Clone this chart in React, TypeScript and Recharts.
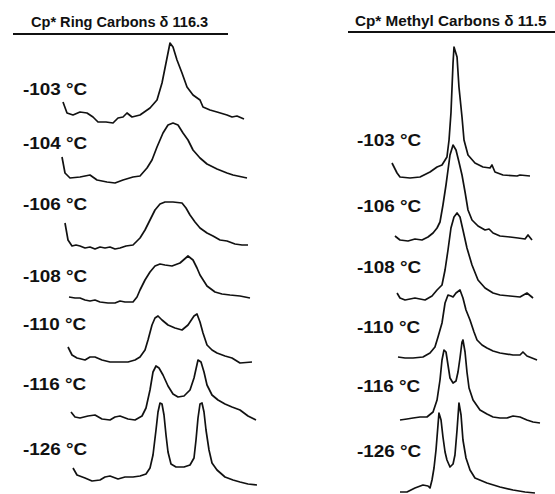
import { Line, LineChart, XAxis, YAxis } from "recharts";

type Pt = [number, number];

// x: position along the shift axis (0-100), y: intensity above baseline
const ringTemps = ["-103 °C", "-104 °C", "-106 °C", "-108 °C", "-110 °C", "-116 °C", "-126 °C"];
const methylTemps = ["-103 °C", "-106 °C", "-108 °C", "-110 °C", "-116 °C", "-126 °C"];

const ring103: Pt[] = [
  [1.5, 16], [3.5, 5], [6.5, 3], [10, 6], [13.5, 5], [16.5, 1], [19, -4], [23, -4], [26.5, -5],
  [29, 0], [31.5, 1], [33.5, 5], [36, 1], [40, 3], [45, 10], [48.5, 18], [51, 35], [53, 55],
  [55, 75], [56.5, 71], [58.5, 58], [61, 45], [63.5, 31], [66.5, 23], [70, 18], [71.5, 11],
  [75, 8], [78.5, 6], [83.5, 3], [86, 1], [88.5, 2], [92, -1],
];
const ring104: Pt[] = [
  [1, 23], [2.5, 7], [5, 2], [10, 3], [15, 5], [18.5, 0], [23.5, -2], [27.5, -3], [31.5, 0],
  [36.5, 3], [40, 4], [43.5, 12], [46, 20], [48.5, 33], [51.5, 47], [54, 55], [56.5, 57],
  [59, 55], [61.5, 47], [64, 40], [66.5, 30], [70, 22], [73.5, 16], [78.5, 11], [83.5, 7],
  [86.5, 5], [93.5, 2],
];
const ring106: Pt[] = [
  [2.5, 23], [4, 6], [6, 0], [8, 1], [10, 0], [12.5, -2], [15, -1], [17.5, -3], [20, -1],
  [22.5, -2], [25, -1], [27.5, -3], [30, -2], [33, 0], [36.5, 1], [40, 8], [42.5, 16], [45, 26],
  [47.5, 36], [50, 42], [52.5, 44], [56.5, 44], [61, 43], [63, 38], [65, 31], [67.5, 24],
  [70, 18], [73.5, 13], [76.5, 10], [80, 6], [83.5, 5], [87.5, 2], [91, 1], [94, 1],
];
const ring108: Pt[] = [
  [4.5, 3], [7.5, 2], [10, 2], [12.5, 0], [15, -1], [17.5, 0], [20, -2], [24, -3], [27.5, -3],
  [30, -1], [32.5, -2], [36.5, -2], [38.5, 3], [40, 10], [42.5, 20], [45, 28], [47.5, 34],
  [50, 36], [52.5, 35], [56, 34], [60, 37], [64, 44], [66.5, 40], [68.5, 32], [70, 25],
  [73.5, 14], [77.5, 8], [81, 6], [85, 5], [90, 4], [95, 2],
];
const ring110: Pt[] = [
  [4, 13], [6, 5], [8.5, 2], [12.5, 0], [15, 3], [17.5, 3], [21, 0], [25, -2], [30, -2],
  [34, -2], [37.5, 0], [40, 3], [42.5, 10], [44, 20], [46, 35], [47.5, 42], [49, 44], [51, 40],
  [54, 35], [57.5, 32], [61, 30], [64, 35], [67, 44], [68.5, 46], [70, 38], [71.5, 27],
  [73.5, 15], [76, 10], [78.5, 7], [82.5, 4], [86, 2], [90, -3], [96, -2],
];
const ring116: Pt[] = [
  [5.5, 6], [7.5, 1], [10, 0], [14, 2], [17.5, 3], [21, -1], [25, -2], [27.5, 1], [30, 2],
  [34, -1], [37.5, -2], [41, 2], [43, 10], [45, 28], [46.5, 46], [48, 52], [49.5, 50],
  [51.5, 43], [54, 32], [56.5, 24], [59, 21], [62, 22], [65, 28], [67, 40], [69, 58],
  [70.5, 56], [72, 46], [73.5, 33], [76, 23], [79, 18], [82.5, 14], [86, 11], [90, 8],
  [94, 2], [98, -2],
];
const ring126: Pt[] = [
  [6.5, 10], [8.5, 3], [12.5, 0], [16, -3], [20, -2], [22.5, 1], [25, 2], [29, -1], [32.5, 1],
  [36.5, 1], [40, 2], [43, 4], [45, 10], [46.5, 23], [48, 48], [49, 66], [50, 75], [51, 74],
  [52, 63], [53, 43], [54, 26], [55.5, 14], [58, 11], [62, 11], [65, 13], [67, 20], [68, 38],
  [69, 60], [70, 74], [71, 75], [72, 66], [73, 48], [74.5, 28], [76, 15], [78.5, 8], [82.5, 1],
  [86.5, -2], [90, -4], [94, -6], [98.5, -7],
];

const methyl103: Pt[] = [
  [1.25, 14], [4.4, 4], [6.25, 0], [12.5, -1], [18.75, 0], [25, 5], [29.4, 10], [32.5, 12],
  [35.6, 20], [36.9, 37], [38.1, 64], [39.4, 114], [40, 130], [41.9, 120], [43.1, 90], [45, 60],
  [46.25, 37], [48.75, 22], [53.1, 14], [58.1, 10], [62.5, 9], [63.75, 12], [65.6, 5],
  [70.6, 2], [79.4, 1], [81.25, 2], [87.5, 1],
];
const methyl106: Pt[] = [
  [3.1, 4], [6.25, 0], [11.25, -1], [15.6, 1], [20, 0], [23.75, 3], [26.9, 7], [29.4, 12],
  [31.25, 18], [33.1, 35], [35, 55], [36.25, 70], [37.5, 85], [39.4, 95], [41.25, 90],
  [43.1, 78], [45, 65], [46.9, 48], [48.75, 30], [51.25, 20], [55, 14], [59.4, 10], [61.9, 11],
  [64.4, 7], [68.75, 4], [75, 3], [80, 2], [84.4, 1], [86.25, 5], [88.75, 0],
];
const methyl108: Pt[] = [
  [4.4, 5], [6.25, 0], [9.4, -2], [15.6, 0], [21.9, -2], [26.25, 2], [29.4, 8], [32.5, 13],
  [34.4, 28], [36.25, 48], [38.1, 70], [40, 81], [41.9, 85], [43.75, 81], [45.6, 68], [48.1, 50],
  [51.25, 33], [55, 18], [59.4, 10], [64.4, 5], [68.75, 3], [75, 2], [81.25, 1], [85.6, 5],
  [89.4, 0],
];
const methyl110: Pt[] = [
  [5, 0], [9.4, -1], [14.4, -1], [20.6, 0], [25, 4], [28.1, 10], [30, 20], [32.5, 34], [34.4, 54],
  [36.25, 62], [38.1, 61], [39.4, 60], [41.25, 64], [43.75, 67], [45.6, 59], [47.5, 47],
  [50, 37], [52.5, 25], [54.4, 17], [57.5, 12], [60.6, 9], [64.4, 6], [68.75, 4], [76.9, 2],
  [81.25, 2], [83.1, 5], [85.6, 1], [91.9, -3],
];
const methyl116: Pt[] = [
  [6.25, -2], [10.6, -1], [14.4, 0], [18.75, 1], [23.1, 1], [26.9, 6], [29.4, 18], [31.25, 38],
  [32.5, 58], [33.75, 68], [35, 66], [36.25, 53], [37.5, 40], [39.4, 35], [41.25, 37], [42.5, 46],
  [43.75, 60], [45, 76], [45.6, 78], [46.9, 66], [48.1, 46], [49.4, 30], [51.9, 18], [56.25, 8],
  [60.6, 4], [64.4, 1], [68.75, 0], [73.1, 0], [76.9, 2], [81.25, 1], [85.6, -2], [89.4, -4],
  [93.75, -5],
];
const methyl126: Pt[] = [
  [6.25, -7], [10.6, -7], [15.6, -3], [20.6, 0], [23.75, -1], [25, -3], [26.25, 5], [27.5, 17],
  [28.75, 35], [30, 60], [30.6, 72], [31.9, 65], [33.1, 48], [34.4, 33], [35.6, 25], [37.5, 18],
  [39.4, 21], [40.6, 30], [41.9, 55], [43.1, 82], [44.4, 70], [45.6, 45], [47.5, 27], [50, 15],
  [53.1, 7], [60.6, 2], [68.75, -2], [76.9, -5], [84.4, -7], [90.6, -8],
];

const ringSpectra = [ring103, ring104, ring106, ring108, ring110, ring116, ring126];
const methylSpectra = [methyl103, methyl106, methyl108, methyl110, methyl116, methyl126];

// layout
const ringBaselines = [118, 180, 246, 300, 360, 418, 478];
const ringLabelY = [90, 144, 205, 277, 325, 385, 450];
const methylBaselines = [177, 240, 298, 357, 418, 485];
const methylLabelY = [141, 207, 268, 328, 387, 452];

const ABOVE = 140;
const BELOW = 20;
const FONT = "'Liberation Sans', Arial, Helvetica, sans-serif";

function Trace({ points, left, width, baseline }: { points: Pt[]; left: number; width: number; baseline: number }) {
  const data = points.map(([x, y]) => ({ x, y }));
  return (
    <div style={{ position: "absolute", left, top: baseline - ABOVE, width, height: ABOVE + BELOW }}>
      <LineChart width={width} height={ABOVE + BELOW} data={data} margin={{ top: 0, right: 0, bottom: 0, left: 0 }}>
        <XAxis type="number" dataKey="x" domain={[0, 100]} hide allowDataOverflow />
        <YAxis type="number" domain={[-BELOW, ABOVE]} hide allowDataOverflow />
        <Line
          type="linear"
          dataKey="y"
          stroke="#111"
          strokeWidth={1.7}
          strokeLinejoin="round"
          dot={false}
          activeDot={false}
          isAnimationActive={false}
        />
      </LineChart>
    </div>
  );
}

function Label({ text, x, y }: { text: string; x: number; y: number }) {
  return (
    <div
      style={{
        position: "absolute",
        left: x,
        top: y - 8,
        height: 16,
        lineHeight: "16px",
        fontSize: 16,
        fontWeight: 700,
        whiteSpace: "nowrap",
        fontFamily: FONT,
        color: "#111",
        transform: "scaleX(1.18)",
        transformOrigin: "left center",
      }}
    >
      {text}
    </div>
  );
}

function Header({ text, x, y, lineX, lineW, lineY, stretch }: { text: string; x: number; y: number; lineX: number; lineW: number; lineY: number; stretch: number }) {
  return (
    <>
      <div
        style={{
          position: "absolute",
          left: x,
          top: y - 8,
          lineHeight: "16px",
          fontSize: 14,
          fontWeight: 700,
          whiteSpace: "nowrap",
          fontFamily: FONT,
          color: "#111",
          transform: `scaleX(${stretch})`,
          transformOrigin: "left center",
        }}
      >
        {text}
      </div>
      <div style={{ position: "absolute", left: lineX, top: lineY - 1, width: lineW, height: 2, background: "#111" }} />
    </>
  );
}

export default function App() {
  return (
    <div style={{ position: "absolute", left: 0, top: 0, width: 555, height: 494, overflow: "hidden", background: "#fff" }}>
      <Header text="Cp* Ring Carbons δ 116.3" x={31} y={22} lineX={13} lineW={215} lineY={34} stretch={1.04} />
      <Header text="Cp* Methyl Carbons δ 11.5" x={355} y={20.5} lineX={348} lineW={207} lineY={32} stretch={1.09} />

      {ringSpectra.map((pts, i) => (
        <Trace key={`r${i}`} points={pts} left={60} width={200} baseline={ringBaselines[i]} />
      ))}
      {methylSpectra.map((pts, i) => (
        <Trace key={`m${i}`} points={pts} left={390} width={160} baseline={methylBaselines[i]} />
      ))}

      {ringTemps.map((t, i) => (
        <Label key={`rl${i}`} text={t} x={23} y={ringLabelY[i]} />
      ))}
      {methylTemps.map((t, i) => (
        <Label key={`ml${i}`} text={t} x={357} y={methylLabelY[i]} />
      ))}
    </div>
  );
}
